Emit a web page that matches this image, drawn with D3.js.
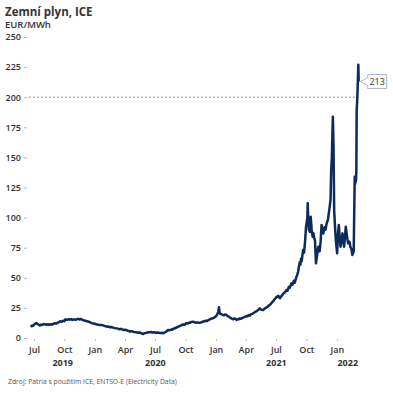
<!DOCTYPE html>
<html>
<head>
<meta charset="utf-8">
<script src="https://cdn.jsdelivr.net/npm/d3@7"></script>
<style>
  body { margin: 0; background: #fff; }
  svg { display: block; font-family: "Open Sans", sans-serif; }
</style>
</head>
<body>
<div id="chart"></div>
<script>
"use strict";

// TTF price, EUR/MWh (month-day, value), one array pair per year
const days2019 = [
  "06-21", "06-25", "06-28",
  "07-02", "07-05", "07-09", "07-12", "07-16", "07-19", "07-23", "07-26", "07-31",
  "08-05", "08-08", "08-13", "08-16", "08-21", "08-26", "08-29",
  "09-03", "09-06", "09-11", "09-14", "09-18", "09-23", "09-27",
  "10-01", "10-04", "10-09", "10-14", "10-17", "10-22", "10-25", "10-30",
  "11-04", "11-07", "11-12", "11-15", "11-20", "11-25", "11-28",
  "12-03", "12-06", "12-11", "12-16", "12-19", "12-24", "12-30"
];
const gas2019 = [
  9.4, 10.3, 10.0,
  11.2, 11.9, 12.4, 11.6, 11.0, 10.4, 11.2, 10.8, 11.6,
  11.3, 10.9, 11.4, 10.8, 11.5, 11.2, 11.8,
  12.2, 12.0, 12.8, 13.0, 13.9, 13.4, 14.4,
  14.0, 15.5, 15.0, 15.6, 15.2, 15.7, 15.0, 15.5,
  15.1, 15.6, 15.9, 15.4, 15.8, 15.0, 14.7,
  14.4, 14.1, 13.7, 13.3, 12.8, 12.3, 12.0
];

const days2020 = [
  "01-03", "01-08", "01-13", "01-16", "01-21", "01-26", "01-30",
  "02-04", "02-07", "02-12", "02-15", "02-20", "02-25",
  "03-02", "03-07", "03-11", "03-16", "03-20", "03-25", "03-27",
  "04-01", "04-06", "04-09", "04-14", "04-16", "04-21", "04-24", "04-29",
  "05-04", "05-06", "05-11", "05-15", "05-19", "05-22", "05-26", "05-29",
  "06-03", "06-08", "06-12", "06-15", "06-19", "06-24", "06-29",
  "07-03", "07-08", "07-13", "07-17", "07-22", "07-25", "07-29",
  "08-03", "08-06", "08-09", "08-13", "08-18", "08-21", "08-24", "08-28",
  "09-02", "09-07", "09-11", "09-14", "09-18", "09-23", "09-28",
  "10-03", "10-07", "10-12", "10-15", "10-18", "10-23", "10-28",
  "11-02", "11-06", "11-11", "11-16", "11-19", "11-22", "11-26",
  "12-01", "12-04", "12-09", "12-13", "12-17", "12-22", "12-28"
];
const gas2020 = [
  11.6, 11.2, 11.0, 10.7, 10.9, 10.5, 10.0,
  9.8, 9.3, 9.5, 8.9, 9.1, 8.6,
  8.2, 8.0, 7.8, 7.2, 7.6, 7.0, 6.6,
  6.9, 6.4, 6.1, 5.8, 5.3, 5.7, 5.4, 5.0,
  4.8, 4.7, 4.4, 4.7, 4.0, 3.7, 3.3, 3.8,
  4.3, 4.6, 4.9, 4.7, 5.0, 4.6, 4.8,
  4.4, 4.6, 4.3, 4.1, 4.3, 3.9, 4.5,
  5.2, 6.0, 6.6, 6.4, 7.0, 6.8, 7.5, 7.9,
  8.5, 9.2, 9.7, 10.0, 10.6, 11.2, 11.0,
  12.2, 12.0, 12.8, 12.6, 13.3, 13.6, 13.1,
  12.7, 13.0, 12.6, 12.9, 13.2, 13.5, 13.9,
  14.3, 14.0, 14.9, 15.5, 16.0, 16.4, 17.2
];

const days2021 = [
  "01-02", "01-06", "01-08", "01-10", "01-12", "01-14", "01-17", "01-21", "01-25", "01-28",
  "02-02", "02-05", "02-09", "02-12", "02-15", "02-18", "02-22", "02-25",
  "03-01", "03-04", "03-09", "03-12", "03-14", "03-18", "03-21", "03-25", "03-28",
  "04-01", "04-03", "04-07", "04-10", "04-14", "04-16", "04-20", "04-23", "04-27", "04-30",
  "05-04", "05-07", "05-11", "05-13", "05-16", "05-18", "05-23", "05-26", "05-30",
  "06-03", "06-06", "06-09", "06-12", "06-16", "06-19", "06-23", "06-26", "06-30",
  "07-03", "07-06", "07-08", "07-11", "07-13", "07-16", "07-20", "07-23", "07-27", "07-30",
  "08-02", "08-05", "08-09", "08-12", "08-17", "08-20", "08-24", "08-27",
  "09-01", "09-03", "09-06", "09-08", "09-11", "09-13", "09-15", "09-17", "09-21", "09-24", "09-27", "09-30",
  "10-04", "10-05", "10-06", "10-07", "10-09", "10-12", "10-14", "10-17", "10-20", "10-22", "10-25", "10-27", "10-30",
  "11-02", "11-04", "11-06", "11-10", "11-13", "11-16", "11-19", "11-21", "11-25", "11-28",
  "12-01", "12-05", "12-09", "12-13", "12-15", "12-17", "12-20", "12-22", "12-24", "12-27", "12-29"
];
const gas2021 = [
  18.3, 20.5, 21.5, 25.5, 21.0, 20.0, 19.9, 19.3, 18.8, 19.6,
  19.1, 18.2, 17.8, 17.0, 16.5, 16.0, 15.5, 16.2,
  16.0, 15.0, 15.8, 15.6, 16.3, 16.0, 16.6, 17.1, 17.4,
  17.9, 18.3, 18.0, 19.0, 18.7, 19.6, 20.1, 20.5, 21.2, 21.8,
  22.3, 23.0, 24.0, 24.6, 23.8, 23.4, 23.2, 24.0, 24.8,
  25.5, 26.0, 26.8, 27.4, 28.5, 29.5, 30.6, 31.8, 33.0,
  34.3, 34.0, 35.0, 34.2, 33.0, 34.4, 35.5, 36.8, 37.8, 38.6,
  39.9, 39.2, 42.5, 41.8, 45.4, 44.2, 47.5, 46.0,
  50.9, 52.0, 55.0, 58.5, 63.0, 61.0, 66.0, 64.0, 73.0, 71.0, 80.0, 92.5,
  100.0, 112.0, 104.0, 95.0, 89.7, 88.0, 100.8, 90.0, 84.0, 87.0, 83.0, 81.0, 62.0,
  68.0, 72.0, 75.8, 72.0, 80.0, 93.9, 88.0, 86.9, 92.0, 90.0,
  95.0, 98.0, 106.0, 115.0, 139.5, 150.0, 183.8, 160.0, 106.0, 90.0, 81.0
];

const days2022 = [
  "01-02", "01-04", "01-07", "01-10", "01-12", "01-15", "01-18", "01-21", "01-23", "01-26", "01-28",
  "02-01", "02-04", "02-08", "02-11", "02-14", "02-17", "02-21", "02-22", "02-24", "02-25", "02-28",
  "03-01", "03-02", "03-04", "03-07", "03-08"
];
const gas2022 = [
  70.3, 85.0, 93.9, 82.0, 75.8, 80.0, 86.9, 80.0, 75.8, 85.0, 92.5,
  84.0, 78.6, 80.0, 75.8, 74.0, 69.0, 72.0, 92.5, 134.0, 128.0, 131.0,
  139.0, 189.0, 200.0, 227.0, 213.0
];

const years = [2019, 2020, 2021, 2022];
const yTicks = [0, 25, 50, 75, 100, 125, 150, 175, 200, 225, 250];
const monthNames = ["Jan", "Apr", "Jul", "Oct"];
const refLevel = 200;

const title = "Zemní plyn, ICE";
const unit = "EUR/MWh";
const source = "Zdroj: Patria s použitím ICE, ENTSO-E (Electricity Data)";

const parse = d3.timeParse("%Y-%m-%d");
const series = [
  [2019, days2019, gas2019],
  [2020, days2020, gas2020],
  [2021, days2021, gas2021],
  [2022, days2022, gas2022]
].flatMap(([yr, ds, vs]) => ds.map((d, i) => ({ date: parse(`${yr}-${d}`), value: vs[i] })));

const width = 393, height = 393;
const navy = "#0c2a5b";

const svg = d3.select("#chart").append("svg")
  .attr("width", width)
  .attr("height", height);

const x = d3.scaleTime()
  .domain([new Date(2019, 5, 1), new Date(2022, 2, 12)])
  .range([24, 360]);

const y = d3.scaleLinear()
  .domain([0, 250])
  .range([338, 37]);

// titles
svg.append("text")
  .attr("x", 5).attr("y", 16)
  .attr("font-size", 11.5).attr("font-weight", 700)
  .attr("fill", "#333")
  .text(title);

svg.append("text")
  .attr("x", 5).attr("y", 28)
  .attr("font-size", 9.5).attr("font-weight", 600)
  .attr("fill", "#333")
  .text(unit);

// y axis
const yAxis = svg.append("g")
  .attr("transform", "translate(27,0)")
  .call(d3.axisLeft(y).tickValues(yTicks).tickSize(3).tickPadding(3));
yAxis.select(".domain").remove();
yAxis.selectAll(".tick line").attr("stroke", "#bbb");
yAxis.selectAll(".tick text")
  .attr("font-family", "Open Sans, sans-serif")
  .attr("font-size", 9).attr("font-weight", 600)
  .attr("fill", "#333");

// x axis, quarterly ticks
const xTicks = d3.timeMonth.range(new Date(2019, 6, 1), new Date(2022, 0, 2), 3);
const xAxis = svg.append("g")
  .attr("transform", "translate(0,339)")
  .call(d3.axisBottom(x).tickValues(xTicks).tickSize(2).tickPadding(6)
    .tickFormat(d => monthNames[Math.floor(d.getMonth() / 3)]));
xAxis.select(".domain").remove();
xAxis.selectAll(".tick line").attr("stroke", "#bbb");
xAxis.selectAll(".tick text")
  .attr("font-family", "Open Sans, sans-serif")
  .attr("font-size", 9).attr("font-weight", 600)
  .attr("fill", "#333");

// year labels centred on the part of each year that has data
const first = series[0].date, last = series[series.length - 1];
svg.append("g").selectAll("text")
  .data(years)
  .join("text")
  .attr("x", yr => {
    const a = d3.max([new Date(yr, 0, 1), first]);
    const b = d3.min([new Date(yr + 1, 0, 1), last.date]);
    return (x(a) + x(b)) / 2;
  })
  .attr("y", 366)
  .attr("text-anchor", "middle")
  .attr("font-size", 9).attr("font-weight", 700)
  .attr("fill", "#333")
  .text(yr => yr);

// reference line at 200
svg.append("line")
  .attr("x1", 29).attr("x2", x(last.date))
  .attr("y1", y(refLevel)).attr("y2", y(refLevel))
  .attr("stroke", "#999")
  .attr("stroke-width", 1)
  .attr("stroke-dasharray", "2,2");

// price line
svg.append("path")
  .datum(series)
  .attr("fill", "none")
  .attr("stroke", navy)
  .attr("stroke-width", 2.5)
  .attr("stroke-linejoin", "round")
  .attr("d", d3.line().x(d => x(d.date)).y(d => y(d.value)));

// last value callout
const lx = x(last.date) + 2, ly = y(last.value);
const callout = svg.append("g").attr("transform", `translate(${lx},${ly})`);
callout.append("path")
  .attr("d", "M0,0 L7,-4 L7,-7 L26,-7 L26,7 L7,7 L7,4 Z")
  .attr("fill", "#fff")
  .attr("stroke", "#9aa5b1")
  .attr("stroke-width", 0.8);
callout.append("text")
  .attr("x", 16.5).attr("y", 3.2)
  .attr("text-anchor", "middle")
  .attr("font-size", 9)
  .attr("fill", "#333")
  .text(d3.format(".0f")(last.value));

// source note
svg.append("text")
  .attr("x", 8).attr("y", 384)
  .attr("font-size", 6.8)
  .attr("fill", "#555")
  .text(source);
</script>
</body>
</html>
